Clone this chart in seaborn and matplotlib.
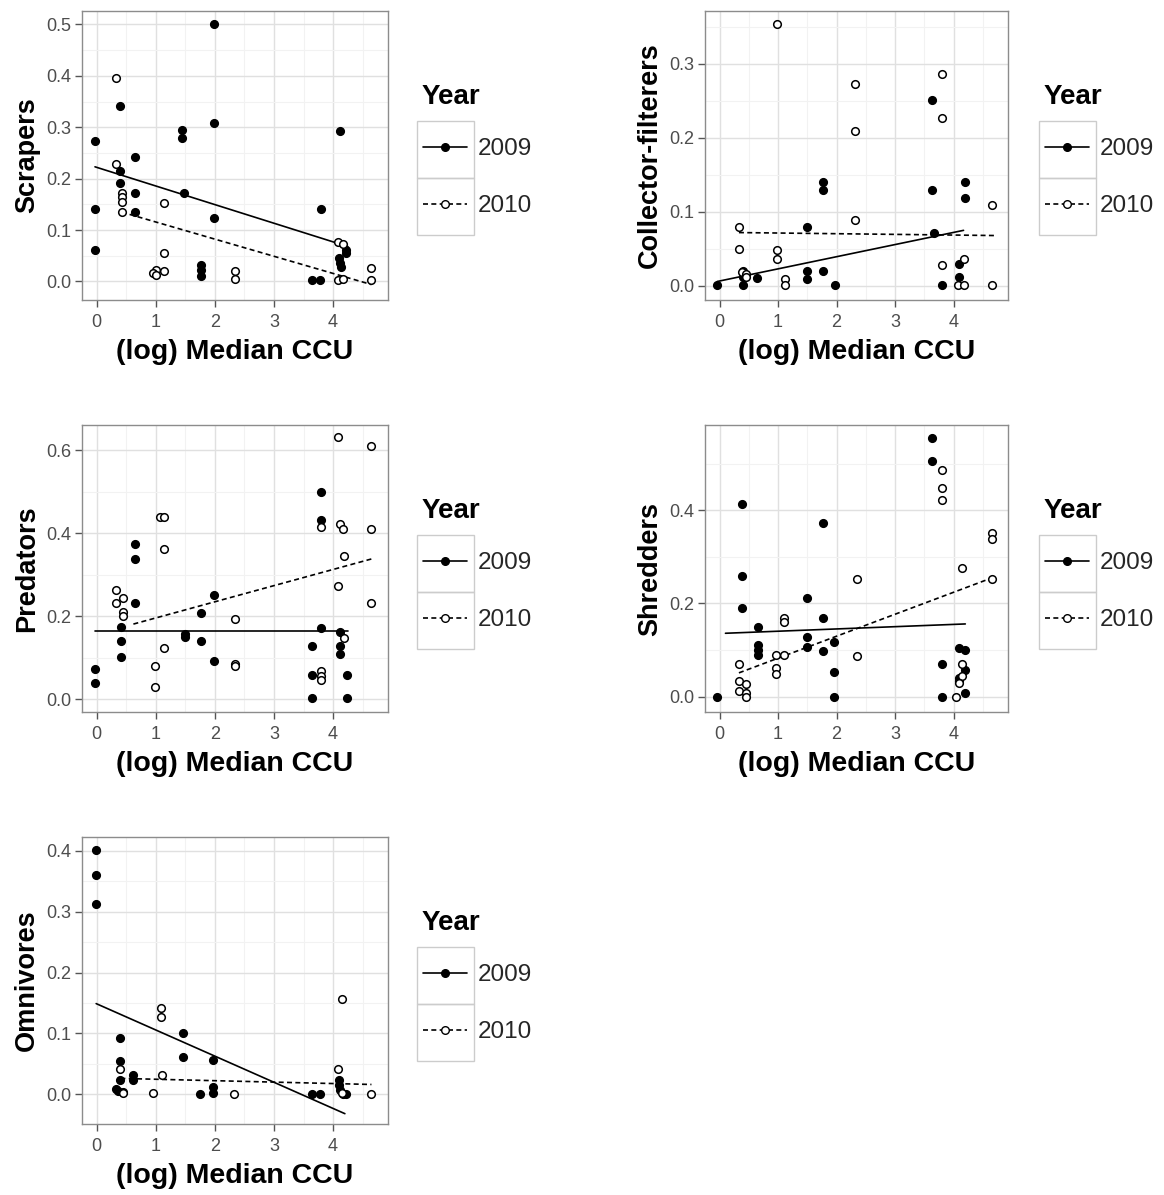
import matplotlib
matplotlib.use("Agg")
import matplotlib.pyplot as plt
from matplotlib.lines import Line2D
from matplotlib.patches import Rectangle
from matplotlib.ticker import MultipleLocator, FormatStrFormatter
import seaborn as sns
import pandas as pd

# ---------------- data ----------------
panel_names = ["Scrapers", "Collector-filterers", "Predators", "Shredders", "Omnivores"]
years = ["2009", "2010"]
legend_title = "Year"
x_label = "(log) Median CCU"

scr_x_2009 = [-0.03, -0.03, -0.03, 0.4, 0.4, 0.4, 0.65, 0.65, 0.65, 1.45, 1.45, 1.48, 1.77, 1.77, 1.77,
              1.98, 1.98, 1.98, 3.65, 3.78, 3.79, 4.11, 4.1, 4.12, 4.14, 4.22, 4.22]
scr_y_2009 = [0.274, 0.141, 0.062, 0.341, 0.214, 0.191, 0.243, 0.172, 0.135, 0.295, 0.28, 0.172, 0.032, 0.023, 0.011,
              0.5, 0.308, 0.123, 0.002, 0.002, 0.141, 0.293, 0.045, 0.036, 0.029, 0.061, 0.055]
scr_x_2010 = [0.33, 0.33, 0.42, 0.42, 0.42, 0.42, 1.0, 0.96, 1.0, 1.13, 1.13, 1.13, 2.34, 2.34, 4.08, 4.17, 4.08,
              4.17, 4.65, 4.65]
scr_y_2010 = [0.395, 0.229, 0.172, 0.165, 0.155, 0.135, 0.023, 0.017, 0.013, 0.152, 0.055, 0.021, 0.021, 0.005,
              0.076, 0.073, 0.003, 0.005, 0.027, 0.002]
scr_fit_x_2009 = [-0.03, 4.25]
scr_fit_y_2009 = [0.223, 0.068]
scr_fit_x_2010 = [0.42, 4.65]
scr_fit_y_2010 = [0.135, -0.006]

col_x_2009 = [-0.04, 0.4, 0.4, 0.4, 0.64, 1.5, 1.5, 1.5, 1.76, 1.76, 1.76, 1.97, 3.63, 3.63, 3.67, 3.8, 4.1, 4.1,
              4.2, 4.2]
col_y_2009 = [0.001, 0.02, 0.012, 0.001, 0.011, 0.08, 0.02, 0.01, 0.14, 0.129, 0.02, 0.001, 0.251, 0.13, 0.071,
              0.001, 0.03, 0.012, 0.14, 0.119]
col_x_2010 = [0.33, 0.33, 0.38, 0.45, 0.45, 0.98, 0.98, 1.12, 1.12, 0.98, 2.31, 2.31, 2.31, 3.8, 3.8, 3.8, 4.08,
              4.17, 4.17, 4.65, 4.65]
col_y_2010 = [0.08, 0.05, 0.019, 0.016, 0.012, 0.049, 0.036, 0.01, 0.001, 0.353, 0.272, 0.209, 0.089, 0.286, 0.226,
              0.028, 0.001, 0.001, 0.037, 0.001, 0.109]
col_fit_x_2009 = [-0.04, 4.17]
col_fit_y_2009 = [0.006, 0.075]
col_fit_x_2010 = [0.33, 4.7]
col_fit_y_2010 = [0.072, 0.068]

pre_x_2009 = [-0.03, -0.03, 0.41, 0.41, 0.41, 0.64, 0.64, 0.64, 1.49, 1.49, 1.77, 1.77, 1.98, 1.98, 3.65, 3.65,
              3.65, 3.79, 3.79, 3.79, 4.12, 4.12, 4.12, 4.23, 4.23]
pre_y_2009 = [0.073, 0.038, 0.173, 0.14, 0.101, 0.374, 0.339, 0.231, 0.157, 0.149, 0.208, 0.14, 0.251, 0.093,
              0.129, 0.059, 0.003, 0.5, 0.431, 0.172, 0.163, 0.129, 0.109, 0.059, 0.003]
pre_x_2010 = [0.33, 0.33, 0.44, 0.44, 0.44, 0.98, 0.98, 1.07, 1.13, 1.13, 1.13, 2.34, 2.34, 2.34, 3.79, 3.79, 3.79,
              3.79, 4.08, 4.12, 4.17, 4.08, 4.18, 4.18, 4.65, 4.65, 4.65]
pre_y_2010 = [0.264, 0.231, 0.245, 0.209, 0.2, 0.081, 0.029, 0.438, 0.438, 0.363, 0.124, 0.193, 0.085, 0.081,
              0.414, 0.069, 0.055, 0.047, 0.632, 0.422, 0.41, 0.273, 0.344, 0.147, 0.61, 0.41, 0.231]
pre_fit_x_2009 = [-0.03, 4.25]
pre_fit_y_2009 = [0.165, 0.165]
pre_fit_x_2010 = [0.62, 4.65]
pre_fit_y_2010 = [0.181, 0.338]

shr_x_2009 = [-0.04, 0.39, 0.39, 0.39, 0.66, 0.66, 0.66, 0.66, 1.5, 1.5, 1.5, 1.76, 1.76, 1.76, 1.96, 1.96, 1.96,
              3.63, 3.63, 3.8, 3.8, 4.1, 4.2, 4.1, 4.1, 4.2, 4.2]
shr_y_2009 = [0.0, 0.414, 0.259, 0.191, 0.149, 0.111, 0.101, 0.089, 0.212, 0.128, 0.106, 0.372, 0.168, 0.099,
              0.117, 0.053, 0.0, 0.555, 0.505, 0.071, 0.0, 0.105, 0.1, 0.033, 0.04, 0.057, 0.008]
shr_x_2010 = [0.33, 0.33, 0.33, 0.45, 0.45, 0.45, 0.97, 1.1, 0.97, 0.97, 1.1, 1.1, 2.34, 2.34, 3.8, 3.8, 3.8, 4.15,
              4.04, 4.15, 4.15, 4.1, 4.65, 4.65, 4.65]
shr_y_2010 = [0.069, 0.033, 0.012, 0.028, 0.007, 0.0, 0.09, 0.09, 0.062, 0.048, 0.168, 0.161, 0.253, 0.087, 0.487,
              0.447, 0.421, 0.277, 0.0, 0.069, 0.044, 0.03, 0.352, 0.338, 0.253]
shr_fit_x_2009 = [0.1, 4.2]
shr_fit_y_2009 = [0.136, 0.156]
shr_fit_x_2010 = [0.33, 4.7]
shr_fit_y_2010 = [0.051, 0.257]

omn_x_2009 = [-0.01, -0.01, -0.01, 0.4, 0.4, 0.4, 0.33, 0.36, 0.45, 0.62, 0.62, 1.46, 1.46, 1.75, 1.96, 1.96, 1.96,
              3.65, 3.78, 4.1, 4.1, 4.11, 4.17, 4.22]
omn_y_2009 = [0.401, 0.36, 0.312, 0.092, 0.055, 0.023, 0.009, 0.005, 0.004, 0.031, 0.023, 0.101, 0.062, 0.001,
              0.057, 0.012, 0.002, 0.0, 0.0, 0.023, 0.015, 0.007, 0.001, 0.001]
omn_x_2010 = [0.4, 0.44, 1.08, 1.08, 1.1, 0.96, 2.33, 4.08, 4.15, 4.15, 4.65]
omn_y_2010 = [0.042, 0.002, 0.141, 0.127, 0.031, 0.002, 0.001, 0.041, 0.157, 0.002, 0.001]
omn_fit_x_2009 = [-0.01, 4.2]
omn_fit_y_2009 = [0.149, -0.032]
omn_fit_x_2010 = [0.4, 4.65]
omn_fit_y_2010 = [0.026, 0.016]

panels = [
    dict(name="Scrapers", pts={"2009": (scr_x_2009, scr_y_2009), "2010": (scr_x_2010, scr_y_2010)},
         fit={"2009": (scr_fit_x_2009, scr_fit_y_2009), "2010": (scr_fit_x_2010, scr_fit_y_2010)},
         ylim=(-0.036, 0.526), ystep=0.1, pos=(82, 11, 388, 300), leg_x=418),
    dict(name="Collector-filterers", pts={"2009": (col_x_2009, col_y_2009), "2010": (col_x_2010, col_y_2010)},
         fit={"2009": (col_fit_x_2009, col_fit_y_2009), "2010": (col_fit_x_2010, col_fit_y_2010)},
         ylim=(-0.019, 0.371), ystep=0.1, pos=(705, 11, 1008, 300), leg_x=1040),
    dict(name="Predators", pts={"2009": (pre_x_2009, pre_y_2009), "2010": (pre_x_2010, pre_y_2010)},
         fit={"2009": (pre_fit_x_2009, pre_fit_y_2009), "2010": (pre_fit_x_2010, pre_fit_y_2010)},
         ylim=(-0.031, 0.661), ystep=0.2, pos=(82, 425, 388, 712), leg_x=418),
    dict(name="Shredders", pts={"2009": (shr_x_2009, shr_y_2009), "2010": (shr_x_2010, shr_y_2010)},
         fit={"2009": (shr_fit_x_2009, shr_fit_y_2009), "2010": (shr_fit_x_2010, shr_fit_y_2010)},
         ylim=(-0.033, 0.583), ystep=0.2, pos=(705, 425, 1008, 712), leg_x=1040),
    dict(name="Omnivores", pts={"2009": (omn_x_2009, omn_y_2009), "2010": (omn_x_2010, omn_y_2010)},
         fit={"2009": (omn_fit_x_2009, omn_fit_y_2009), "2010": (omn_fit_x_2010, omn_fit_y_2010)},
         ylim=(-0.049, 0.423), ystep=0.1, pos=(82, 837, 388, 1124), leg_x=418),
]

# ---------------- style ----------------
sns.set_theme(style="whitegrid")
plt.rcParams["font.family"] = ["Liberation Sans", "DejaVu Sans"]

W, H = 1164, 1195
fig = plt.figure(figsize=(W / 100, H / 100), dpi=100)

line_styles = {"2009": "-", "2010": (0, (3, 2))}
face = {"2009": "black", "2010": "white"}

legends = []
for p in panels:
    l, t, r, b = p["pos"]
    ax = fig.add_axes([l / W, 1 - b / H, (r - l) / W, (b - t) / H])
    ax.set_facecolor("white")
    for yr in years:
        xs, ys = p["pts"][yr]
        df = pd.DataFrame({"x": xs, "y": ys})
        sns.scatterplot(data=df, x="x", y="y", ax=ax, color=face[yr], edgecolor="black",
                        linewidth=1.1, s=30, zorder=3, legend=False)
        fx, fy = p["fit"][yr]
        fdf = pd.DataFrame({"x": fx, "y": fy})
        sns.lineplot(data=fdf, x="x", y="y", ax=ax, color="black", linewidth=1.2,
                     linestyle=line_styles[yr], zorder=2, legend=False)
    ax.set_xlim(-0.25, 4.93)
    ax.set_ylim(*p["ylim"])
    ax.xaxis.set_major_locator(MultipleLocator(1))
    ax.xaxis.set_minor_locator(MultipleLocator(0.5))
    ax.yaxis.set_major_locator(MultipleLocator(p["ystep"]))
    ax.yaxis.set_minor_locator(MultipleLocator(p["ystep"] / 2))
    ax.yaxis.set_major_formatter(FormatStrFormatter("%.1f"))
    ax.grid(which="major", color="#e0e0e0", linewidth=1.0)
    ax.grid(which="minor", color="#f2f2f2", linewidth=0.8)
    ax.set_axisbelow(True)
    for sp in ax.spines.values():
        sp.set_color("#8c8c8c")
        sp.set_linewidth(1.0)
    ax.tick_params(axis="both", which="major", direction="out", length=5, width=1,
                   color="#555555", labelcolor="#4d4d4d", labelsize=13,
                   bottom=True, left=True)
    ax.tick_params(axis="x", which="major", pad=5)
    ax.tick_params(axis="y", which="major", pad=3)
    ax.tick_params(axis="both", which="minor", length=0)
    ax.set_xlabel(x_label, fontsize=20.5, fontweight="bold", color="black", labelpad=6)
    ax.set_ylabel(p["name"], fontsize=19.5, fontweight="bold", color="black", labelpad=4)

    handles = [
        Line2D([], [], color="black", linestyle="-", linewidth=1.2, marker="o",
               markerfacecolor="black", markeredgecolor="black", markersize=5.5),
        Line2D([], [], color="black", linestyle=(0, (3, 2)), linewidth=1.2, marker="o",
               markerfacecolor="white", markeredgecolor="black", markersize=5.5),
    ]
    leg = ax.legend(handles, years, loc="upper left",
                    bbox_to_anchor=((p["leg_x"] + 5) / W, 1 - (t + 127) / H),
                    bbox_transform=fig.transFigure,
                    borderaxespad=0, borderpad=0, frameon=False, handlelength=1.8,
                    handletextpad=0.45, labelspacing=1.44, fontsize=17.5)
    fig.text((p["leg_x"] + 4) / W, 1 - (t + 86) / H, legend_title, fontsize=20,
             fontweight="bold", color="black", ha="left", va="center")
    legends.append(leg)

# grey key boxes around legend handles (ggplot-style keys)
fig.canvas.draw()
renderer = fig.canvas.get_renderer()
inv = fig.transFigure.inverted()
for leg in legends:
    texts = leg.get_texts()
    centers = []
    for txt in texts:
        bb = txt.get_window_extent(renderer)
        centers.append(((bb.y0 + bb.y1) / 2, bb.x0))
    step = abs(centers[0][0] - centers[1][0])
    for cy, tx in centers:
        x0 = tx - 61
        (fx0, fy0) = inv.transform((x0, cy - step / 2))
        (fx1, fy1) = inv.transform((x0 + 57, cy + step / 2))
        fig.add_artist(Rectangle((fx0, fy0), fx1 - fx0, fy1 - fy0, transform=fig.transFigure,
                                 facecolor="none", edgecolor="#cccccc", linewidth=1.0, zorder=0))

fig.savefig("out.png", dpi=100)
